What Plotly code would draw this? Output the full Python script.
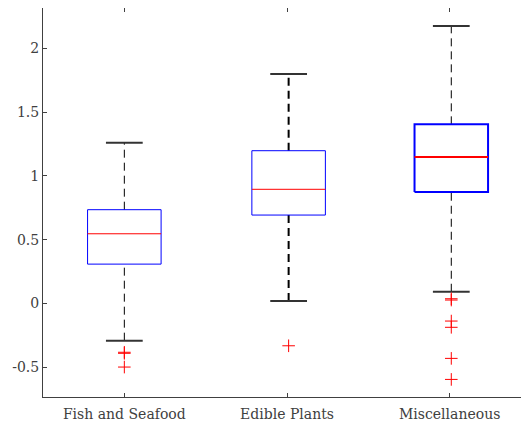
import plotly.graph_objects as go

categories = ["Fish and Seafood", "Edible Plants", "Miscellaneous"]
q1 = [0.308, 0.693, 0.874]
median = [0.546, 0.895, 1.148]
q3 = [0.735, 1.198, 1.405]
lower_whisker = [-0.293, 0.018, 0.091]
upper_whisker = [1.261, 1.800, 2.177]
outliers = [
    [-0.384, -0.392, -0.500],
    [-0.333],
    [0.036, 0.026, -0.139, -0.188, -0.432, -0.597],
]
y_ticks = [-0.5, 0, 0.5, 1, 1.5, 2]
y_tick_text = ["-0.5", "0", "0.5", "1", "1.5", "2"]

# drawing positions / styles
box_pos = [1.0, 2.01, 3.01]
half_box = 0.226
half_cap = 0.113
box_lw = [1, 1, 2]
med_lw = [1, 1, 2]
wh_lw = [1, 2, 1]

fig = go.Figure()
for i, c in enumerate(categories):
    x0 = box_pos[i]
    # whiskers (dashed)
    for a, b in ((q3[i], upper_whisker[i]), (lower_whisker[i], q1[i])):
        fig.add_trace(go.Scatter(x=[x0, x0], y=[a, b], mode="lines",
                                 line=dict(color="black", width=wh_lw[i], dash="8px,5px"),
                                 hoverinfo="skip", showlegend=False))
    # caps
    for v, w in ((upper_whisker[i], 2), (lower_whisker[i], 2)):
        fig.add_trace(go.Scatter(x=[x0 - half_cap, x0 + half_cap], y=[v, v], mode="lines",
                                 line=dict(color="#333333", width=w),
                                 hoverinfo="skip", showlegend=False))
    # box
    fig.add_trace(go.Scatter(
        x=[x0 - half_box, x0 + half_box, x0 + half_box, x0 - half_box, x0 - half_box],
        y=[q1[i], q1[i], q3[i], q3[i], q1[i]], mode="lines",
        line=dict(color="#0000ff", width=box_lw[i]),
        hoverinfo="skip", showlegend=False))
    # median
    fig.add_trace(go.Scatter(x=[x0 - half_box, x0 + half_box], y=[median[i], median[i]],
                             mode="lines", line=dict(color="#ff0000", width=med_lw[i]),
                             hoverinfo="skip", showlegend=False))
    # outliers
    fig.add_trace(go.Scatter(x=[x0] * len(outliers[i]), y=outliers[i], mode="markers",
                             marker=dict(symbol="cross-thin", size=9,
                                         line=dict(color="#ff0000", width=1)),
                             hoverinfo="skip", showlegend=False))

axis_font = dict(family="DejaVu Serif", size=14, color="#404040")
fig.update_layout(
    width=529, height=423,
    margin=dict(l=35, r=6, t=0, b=34, autoexpand=False),
    plot_bgcolor="white", paper_bgcolor="white",
    xaxis=dict(range=[0.5, 3.5], tickvals=[1, 2, 3], ticktext=categories,
               showgrid=False, zeroline=False, showline=True, linecolor="#404040",
               linewidth=1, mirror="ticks", ticks="inside", ticklen=4,
               tickcolor="#404040", tickfont=axis_font, ticklabelstandoff=4),
    yaxis=dict(range=[-0.735, 2.318], tickvals=y_ticks, ticktext=y_tick_text,
               showgrid=False, zeroline=False, showline=True, linecolor="#404040",
               linewidth=1, mirror=False, ticks="inside", ticklen=4,
               tickcolor="#404040", tickfont=axis_font, ticklabelstandoff=0),
)
# extend top and bottom borders to the right edge (axes continue past the view)
for yv in (0, 1):
    fig.add_shape(type="line", xref="paper", yref="paper", x0=1, x1=1.03, y0=yv, y1=yv,
                  line=dict(color="#404040", width=1), layer="above")
fig.write_html("out.html")
